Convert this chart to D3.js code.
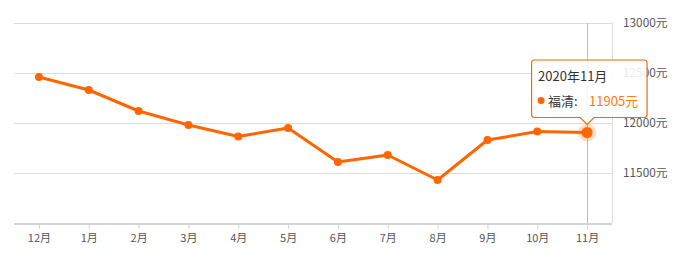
<!DOCTYPE html>
<html><head><meta charset="utf-8">
<script src="https://cdn.jsdelivr.net/npm/d3@7"></script>
<style>
html,body{margin:0;padding:0;background:#fff;}
svg{display:block;font-family:"Noto Sans CJK SC","Open Sans",sans-serif;}
</style></head>
<body>
<svg id="c" width="675" height="259"></svg>
<script>
const months = ["12月","1月","2月","3月","4月","5月","6月","7月","8月","9月","10月","11月"];
const prices = [12460,12330,12120,11980,11865,11950,11610,11680,11430,11830,11915,11905];
const yTicks = [11500,12000,12500,13000];
const seriesName = "福清";
const tipTitle = "2020年11月";
const activeIndex = 11;

const svg = d3.select("#c");
const pL = 14, pR = 612, pT = 23, pB = 223;
const color = "#ff6600";

const x = d3.scalePoint().domain(months).range([pL, pR]).padding(0.5);
const y = d3.scaleLinear().domain([11000,13000]).range([pB, pT]);

// grid lines
svg.append("g").selectAll("line").data(yTicks).join("line")
  .attr("x1", pL).attr("x2", pR)
  .attr("y1", d => y(d)+0.5).attr("y2", d => y(d)+0.5)
  .attr("stroke", "#dcdcdc").attr("stroke-width", 1);

// right axis line
svg.append("line").attr("x1", pR+0.5).attr("x2", pR+0.5).attr("y1", pT).attr("y2", pB)
  .attr("stroke", "#dcdcdc");

// right axis labels
const yAxis = d3.axisRight(y).tickValues(yTicks).tickSize(0).tickPadding(0).tickFormat(d => d + "元");
const gy = svg.append("g").attr("transform", `translate(${pR+11},0)`).call(yAxis);
gy.select(".domain").remove();
gy.selectAll("text").attr("fill", "#555").attr("font-size", 11.8).attr("font-family", "\"Noto Sans CJK SC\",sans-serif");

// bottom axis
const xAxis = d3.axisBottom(x).tickSize(5).tickPadding(5);
const gx = svg.append("g").attr("transform", `translate(0,${pB+1})`).call(xAxis);
gx.select(".domain").attr("d", `M${pL},0H${pR}`).attr("stroke", "#d4d4d4").attr("stroke-width", 2);
gx.selectAll(".tick line").attr("stroke", "#d4d4d4");
gx.selectAll("text").attr("fill", "#555").attr("font-size", 11).attr("font-family", "\"Noto Sans CJK SC\",sans-serif");

// crosshair
const ax = x(months[activeIndex]), ay = y(prices[activeIndex]);
svg.append("line").attr("x1", Math.round(ax)+0.5).attr("x2", Math.round(ax)+0.5)
  .attr("y1", pT).attr("y2", pB).attr("stroke", "#bbb").attr("stroke-width", 1);

// line
const line = d3.line().x((d,i) => x(months[i])).y(d => y(d));
svg.append("path").datum(prices).attr("d", line).attr("fill", "none")
  .attr("stroke", color).attr("stroke-width", 3).attr("stroke-linejoin", "round");

svg.append("g").selectAll("circle").data(prices).join("circle")
  .attr("cx", (d,i) => x(months[i])).attr("cy", d => y(d)).attr("r", 4).attr("fill", color);

// highlight
svg.append("circle").attr("cx", ax).attr("cy", ay).attr("r", 9).attr("fill", color).attr("opacity", 0.22);
svg.append("circle").attr("cx", ax).attr("cy", ay).attr("r", 5.5).attr("fill", color);

// tooltip
const tw = 116, th = 58;
const tx = ax - 56, ty = ay - 73;
const tip = svg.append("g");
tip.append("path")
  .attr("d", `M${tx+3},${ty+0.5} H${tx+tw-3} Q${tx+tw},${ty+0.5} ${tx+tw},${ty+3.5} V${ty+th-3} Q${tx+tw},${ty+th} ${tx+tw-3},${ty+th} H${ax+7} L${ax},${ty+th+7} L${ax-7},${ty+th} H${tx+3} Q${tx+0.5},${ty+th} ${tx+0.5},${ty+th-3} V${ty+3.5} Q${tx+0.5},${ty+0.5} ${tx+3},${ty+0.5} Z`)
  .attr("fill", "rgba(255,255,255,0.88)").attr("stroke", color).attr("stroke-width", 1.2);
tip.append("text").attr("x", tx+7).attr("y", ty+21).attr("font-size", 13).attr("fill", "#333").text(tipTitle);
tip.append("circle").attr("cx", tx+10).attr("cy", ty+41).attr("r", 3.5).attr("fill", color);
tip.append("text").attr("x", tx+17).attr("y", ty+46).attr("font-size", 13).attr("fill", "#333").text(seriesName + ":");
tip.append("text").attr("x", tx+58).attr("y", ty+46).attr("font-size", 13).attr("fill", "#ff7a1a").text(prices[activeIndex] + "元");
</script>
</body></html>
